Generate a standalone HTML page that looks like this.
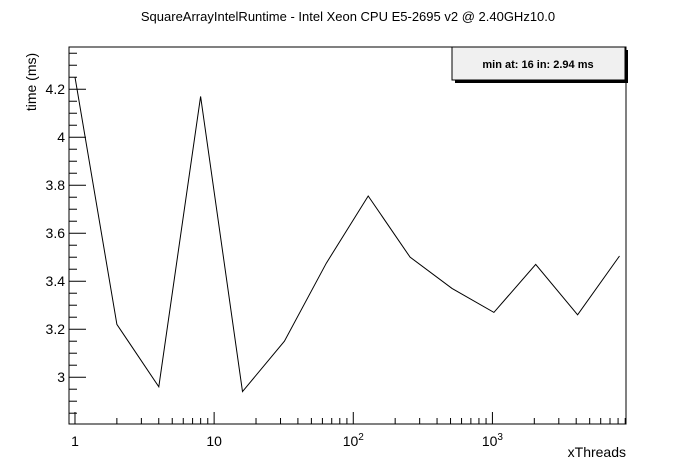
<!DOCTYPE html>
<html><head><meta charset="utf-8"><style>
body{margin:0;background:#fff;}
svg{display:block;font-family:"Liberation Sans",Arial,sans-serif;}
</style></head><body>
<svg id="c" width="696" height="472" xmlns="http://www.w3.org/2000/svg">
<rect width="696" height="472" fill="#fff"/>
<text x="348" y="21" font-size="13" text-anchor="middle">SquareArrayIntelRuntime - Intel Xeon CPU E5-2695 v2 @ 2.40GHz10.0</text>
<text transform="translate(36,82) rotate(-90)" font-size="14" text-anchor="middle">time (ms)</text>
<text x="626" y="457" font-size="14" text-anchor="end">xThreads</text>
<g id="ax"></g>
<g>
<rect x="455" y="50" width="173" height="33" fill="#000"/>
<rect x="452" y="47" width="173" height="33" fill="#f0f0f0" stroke="#000" stroke-width="1"/>
<text x="538" y="68" font-size="11" font-weight="bold" text-anchor="middle">min at: 16 in: 2.94 ms</text>
</g>
</svg>
<script>
const threads=[1,2,4,8,16,32,64,128,256,512,1024,2048,4096,8192];
const times=[4.25,3.22,2.96,4.17,2.94,3.15,3.475,3.755,3.50,3.37,3.27,3.47,3.26,3.505];
const yTicks=[3,3.2,3.4,3.6,3.8,4,4.2];
const yTickLabels=["3","3.2","3.4","3.6","3.8","4","4.2"];
const xDecades=[1,10,100,1000];
const X0=69,X1=626,Y0=424,Y1=47;
const LMIN=-0.043,LMAX=3.96,YMIN=2.805,YMAX=4.376;
function sx(v){return X0+(Math.log10(v)-LMIN)/(LMAX-LMIN)*(X1-X0);}
function sy(v){return Y0-(v-YMIN)/(YMAX-YMIN)*(Y0-Y1);}
const NS="http://www.w3.org/2000/svg";
const g=document.getElementById('ax');
function mk(t,a,p){const e=document.createElementNS(NS,t);for(const k in a)e.setAttribute(k,a[k]);(p||g).appendChild(e);return e;}
const frame=mk('rect',{x:X0,y:Y1,width:X1-X0,height:Y0-Y1,fill:'none',stroke:'#000','stroke-width':1});


for(let v=2.85;v<=YMAX;v+=0.05){const vv=Math.round(v*100)/100;const maj=Math.abs(vv*5-Math.round(vv*5))<1e-6;
const t=mk('line',{x1:X0,x2:X0+(maj?17:8),y1:sy(vv),y2:sy(vv),stroke:'#000'});

}
yTicks.forEach((v,i)=>{const t=mk('text',{x:X0-4,y:sy(v)+5,'font-size':14,'text-anchor':'end'});t.textContent=yTickLabels[i];

});
for(let d=1;d<=10000;d*=10){for(let m=1;m<10;m++){const v=d*m;const lv=Math.log10(v);if(lv<LMIN||lv>LMAX)continue;
const t=mk('line',{x1:sx(v),x2:sx(v),y1:Y0,y2:Y0-(m==1?12:6),stroke:'#000'});

}}
xDecades.forEach(v=>{const t=mk('text',{x:sx(v),y:Y0+22,'font-size':14,'text-anchor':'middle'});
if(v==1)t.textContent='1';else if(v==10)t.textContent='10';else{t.textContent='10';const s=mk('tspan',{dy:-6,'font-size':10},t);s.textContent=String(Math.log10(v));}

});
const pts=threads.map((x,i)=>sx(x).toFixed(1)+','+sy(times[i]).toFixed(1)).join(' ');
const pl=mk('polyline',{points:pts,fill:'none',stroke:'#000','stroke-width':1});


</script>
</body></html>
